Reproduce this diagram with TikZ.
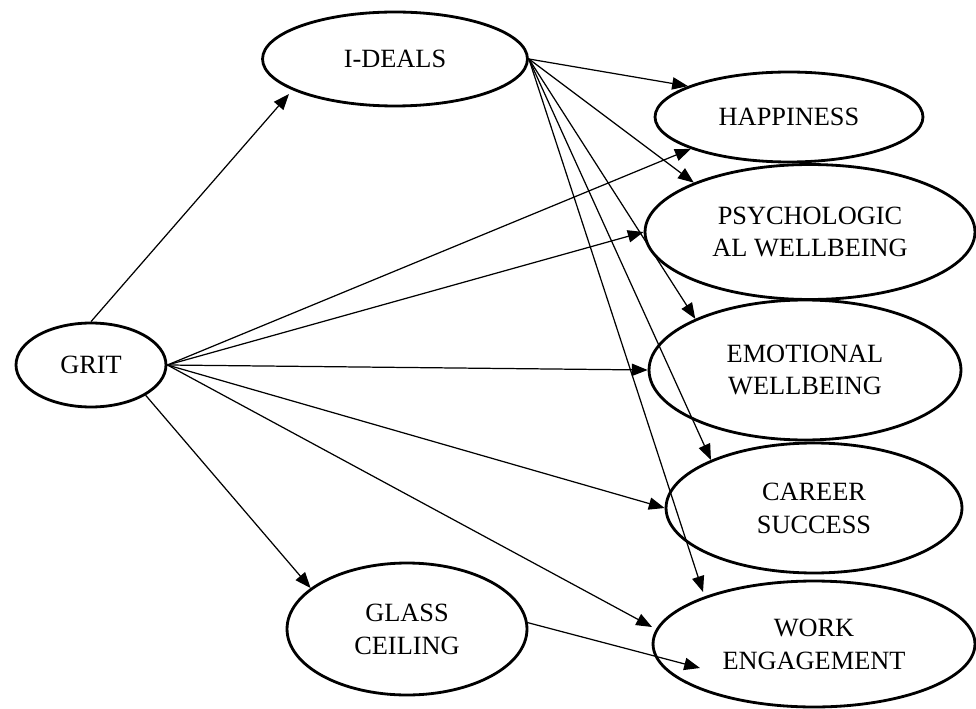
\documentclass[tikz,border=0pt]{standalone}
\usepackage{fontspec}
\setmainfont{Liberation Serif}
\usetikzlibrary{shapes.geometric,arrows.meta,calc}
\begin{document}
\begin{tikzpicture}[x=0.02cm,y=-0.02cm,
  var/.style={ellipse,draw,line width=1.6pt,inner sep=0pt,align=center,font=\fontsize{15}{18.7}\selectfont},
  arr/.style={-{Triangle[length=9pt,width=7pt]},line width=0.7pt}]
\useasboundingbox (0,0) rectangle (976,709);
\node[var,minimum width=3cm,minimum height=1.68cm] (grit) at (91,365) {GRIT};
\node[var,minimum width=5.3cm,minimum height=1.88cm] (ideals) at (395,59) {I-DEALS};
\node[var,minimum width=5.36cm,minimum height=1.8cm] (hap) at (789,117) {HAPPINESS};
\node[var,minimum width=6.6cm,minimum height=2.7cm] (psy) at (810,232) {PSYCHOLOGIC\\AL WELLBEING};
\node[var,minimum width=6.24cm,minimum height=2.8cm] (emo) at (805,370) {EMOTIONAL\\WELLBEING};
\node[var,minimum width=5.92cm,minimum height=2.6cm] (car) at (814,508) {CAREER\\SUCCESS};
\node[var,minimum width=6.44cm,minimum height=2.52cm] (work) at (814,644) {WORK\\ENGAGEMENT};
\node[var,minimum width=4.8cm,minimum height=2.64cm] (glass) at (407,629) {GLASS\\CEILING};

\draw[arr] (grit.north) -- ($(ideals.center)+(-106,35)$);
\draw[arr] (grit.east) -- (hap.198);
\draw[arr] (grit.east) -- (psy.west);
\draw[arr] (grit.east) -- (emo.west);
\draw[arr] (grit.east) -- (car.west);
\draw[arr] (grit.east) -- ($(work.center)+(-162,-17)$);
\draw[arr] (grit.331) -- (glass.157);

\draw[arr] (ideals.east) -- (hap.163);
\draw[arr] (ideals.east) -- (psy.157);
\draw[arr] (ideals.east) -- (emo.155);
\draw[arr] (ideals.east) -- (car.155);
\draw[arr] (ideals.east) -- ($(work.center)+(-111,-52)$);

\draw[arr] (glass.3) -- ($(work.center)+(-114,24)$);
\end{tikzpicture}
\end{document}
